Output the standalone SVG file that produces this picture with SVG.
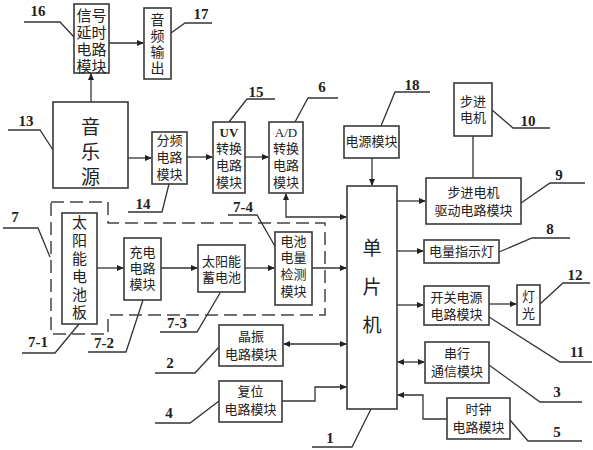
<svg xmlns="http://www.w3.org/2000/svg" width="593" height="450" viewBox="0 0 593 450">
<style>
.b{fill:#fff;stroke:#3a3a3a;stroke-width:1.6}
.l{fill:none;stroke:#333;stroke-width:1.3}
.a{fill:none;stroke:#333;stroke-width:1.3;marker-end:url(#ar)}
.d{fill:none;stroke:#333;stroke-width:1.3;marker-end:url(#ar);marker-start:url(#ar)}
.dash{fill:none;stroke:#444;stroke-width:1.5;stroke-dasharray:13,6}
.t{font-family:"Liberation Sans","Noto Sans CJK SC",sans-serif;font-size:13px;fill:#222;text-anchor:middle;dominant-baseline:central}
.tb{font-size:15px}
.tm{font-size:14px}
.tl{font-size:19px}
.n{font-family:"Liberation Serif",serif;font-weight:bold;font-size:15px;fill:#222;text-anchor:middle;dominant-baseline:central}
</style>
<defs>
<marker id="ar" markerUnits="userSpaceOnUse" markerWidth="7" markerHeight="6" refX="6" refY="3" orient="auto-start-reverse"><path d="M0,0 L7,3 L0,6 z" fill="#222"/></marker>
</defs>
<rect width="593" height="450" fill="#fff"/>
<g id="connectors">
<path class="a" d="M109,43 H143"/>
<path class="a" d="M91,102 V74"/>
<path class="a" d="M128,158 H151"/>
<path class="a" d="M187,157 H212"/>
<path class="a" d="M245,157 H268"/>
<path class="d" d="M286,194 V217 H346"/>
<path class="a" d="M372,158 V185"/>
<path class="l" d="M473,136 V178"/>
<path class="a" d="M397,201 H425"/>
<path class="a" d="M397,251 H423"/>
<path class="a" d="M397,305 H423"/>
<path class="a" d="M489,304 H516"/>
<path class="d" d="M398,362 H424"/>
<path class="a" d="M447,419 H423 V395 H398"/>
<path class="d" d="M284,344 H346"/>
<path class="a" d="M282,401 H315 V387 H346"/>
<path class="a" d="M97,268 H123"/>
<path class="a" d="M161,268 H197"/>
<path class="a" d="M245,268 H274"/>
<path class="a" d="M312,268 H346"/>
<path class="dash" d="M51,202 H108 V223 H325 V315 H108 V334 H51 Z"/>
<path class="l" d="M24,22 H60 L74,37"/>
<path class="l" d="M171,33 L185,23 H212"/>
<path class="l" d="M8,130 H40 L53,150"/>
<path class="l" d="M128,212 H162 L169,184"/>
<path class="l" d="M275,99 H247 L229,122"/>
<path class="l" d="M338,98 H308 L295,122"/>
<path class="l" d="M430,92 H395 L381,126"/>
<path class="l" d="M312,447 H352 L371,409"/>
<path class="l" d="M492,110 L513,128 H550"/>
<path class="l" d="M521,203 L550,183 H585"/>
<path class="l" d="M499,252 L532,238 H570"/>
<path class="l" d="M540,304 L563,283 H590"/>
<path class="l" d="M489,317 L560,362 H592"/>
<path class="l" d="M489,365 L540,402 H582"/>
<path class="l" d="M510,420 L528,441 H582"/>
<path class="l" d="M219,347 L195,373 H155"/>
<path class="l" d="M219,401 L190,423 H155"/>
<path class="l" d="M3,228 H38 L50,257"/>
<path class="l" d="M228,215 H257 L276,248"/>
<path class="l" d="M160,332 H197 L220,293"/>
<path class="l" d="M88,352 H126 L143,300"/>
<path class="l" d="M22,353 H55 L79,324"/>
</g>
<g id="n16"><rect class="b" x="74" y="4" width="35" height="69"/><text class="t tb"><tspan x="91.5" y="15">信号</tspan><tspan x="91.5" y="32">延时</tspan><tspan x="91.5" y="49">电路</tspan><tspan x="91.5" y="66">模块</tspan></text><text class="n" x="38" y="11">16</text></g>
<g id="n17"><rect class="b" x="144" y="8" width="27" height="71"/><text class="t tm"><tspan x="157.5" y="20">音</tspan><tspan x="157.5" y="36">频</tspan><tspan x="157.5" y="52">输</tspan><tspan x="157.5" y="68">出</tspan></text><text class="n" x="201" y="14">17</text></g>
<g id="n13"><rect class="b" x="53" y="102" width="75" height="86"/><text class="t tl"><tspan x="90.5" y="127">音</tspan><tspan x="90.5" y="152">乐</tspan><tspan x="90.5" y="177">源</tspan></text><text class="n" x="26" y="121">13</text></g>
<g id="n14"><rect class="b" x="152" y="132" width="35" height="52"/><text class="t"><tspan x="169.5" y="140">分频</tspan><tspan x="169.5" y="157">电路</tspan><tspan x="169.5" y="174">模块</tspan></text><text class="n" x="143" y="204">14</text></g>
<g id="n15"><rect class="b" x="213" y="122" width="32" height="71"/><text class="t"><tspan x="229" y="132" style="font-family:'Liberation Serif',serif;font-weight:bold">UV</tspan><tspan x="229" y="148">转换</tspan><tspan x="229" y="165">电路</tspan><tspan x="229" y="182">模块</tspan></text><text class="n" x="256" y="92">15</text></g>
<g id="n6"><rect class="b" x="269" y="122" width="34" height="71"/><text class="t"><tspan x="286" y="132" style="font-family:'Liberation Serif',serif">A/D</tspan><tspan x="286" y="148">转换</tspan><tspan x="286" y="165">电路</tspan><tspan x="286" y="182">模块</tspan></text><text class="n" x="322" y="87">6</text></g>
<g id="n18"><rect class="b" x="344" y="126" width="55" height="32"/><text class="t" x="371.5" y="141">电源模块</text><text class="n" x="412" y="85">18</text></g>
<g id="n1"><rect class="b" x="347" y="186" width="50" height="223"/><text class="t tl"><tspan x="372" y="248">单</tspan><tspan x="372" y="287">片</tspan><tspan x="372" y="325">机</tspan></text><text class="n" x="330" y="438">1</text></g>
<g id="n10"><rect class="b" x="454" y="83" width="38" height="53"/><text class="t"><tspan x="473" y="101">步进</tspan><tspan x="473" y="117">电机</tspan></text><text class="n" x="528" y="121">10</text></g>
<g id="n9"><rect class="b" x="426" y="178" width="95" height="46"/><text class="t"><tspan x="473.5" y="192">步进电机</tspan><tspan x="473.5" y="210">驱动电路模块</tspan></text><text class="n" x="559" y="175">9</text></g>
<g id="n8"><rect class="b" x="424" y="240" width="75" height="23"/><text class="t" x="461.5" y="251.5">电量指示灯</text><text class="n" x="550" y="229">8</text></g>
<g id="n11"><rect class="b" x="424" y="286" width="65" height="39"/><text class="t"><tspan x="456.5" y="297">开关电源</tspan><tspan x="456.5" y="314">电路模块</tspan></text><text class="n" x="577" y="352">11</text></g>
<g id="n12"><rect class="b" x="517" y="285" width="23" height="40"/><text class="t"><tspan x="528.5" y="296">灯</tspan><tspan x="528.5" y="313">光</tspan></text><text class="n" x="575" y="275">12</text></g>
<g id="n3"><rect class="b" x="425" y="342" width="64" height="41"/><text class="t"><tspan x="457" y="353">串行</tspan><tspan x="457" y="371">通信模块</tspan></text><text class="n" x="557" y="392">3</text></g>
<g id="n5"><rect class="b" x="447" y="398" width="63" height="41"/><text class="t"><tspan x="478.5" y="409">时钟</tspan><tspan x="478.5" y="427">电路模块</tspan></text><text class="n" x="557" y="432">5</text></g>
<g id="n2"><rect class="b" x="219" y="325" width="64" height="41"/><text class="t"><tspan x="251" y="336">晶振</tspan><tspan x="251" y="354">电路模块</tspan></text><text class="n" x="170" y="363">2</text></g>
<g id="n4"><rect class="b" x="219" y="381" width="63" height="41"/><text class="t"><tspan x="250.5" y="391">复位</tspan><tspan x="250.5" y="409">电路模块</tspan></text><text class="n" x="169" y="413">4</text></g>
<g id="n7"><text class="n" x="15" y="217">7</text></g>
<g id="n7-1"><rect class="b" x="62" y="213" width="35" height="111"/><text class="t tb"><tspan x="79.5" y="222">太</tspan><tspan x="79.5" y="240">阳</tspan><tspan x="79.5" y="258">能</tspan><tspan x="79.5" y="276">电</tspan><tspan x="79.5" y="294">池</tspan><tspan x="79.5" y="312">板</tspan></text><text class="n" x="38" y="342">7-1</text></g>
<g id="n7-2"><rect class="b" x="124" y="238" width="37" height="62"/><text class="t"><tspan x="142.5" y="252">充电</tspan><tspan x="142.5" y="268">电路</tspan><tspan x="142.5" y="284">模块</tspan></text><text class="n" x="104" y="343">7-2</text></g>
<g id="n7-3"><rect class="b" x="198" y="245" width="47" height="47"/><text class="t"><tspan x="221.5" y="261">太阳能</tspan><tspan x="221.5" y="277">蓄电池</tspan></text><text class="n" x="177" y="323">7-3</text></g>
<g id="n7-4"><rect class="b" x="275" y="232" width="37" height="73"/><text class="t"><tspan x="293.5" y="241">电池</tspan><tspan x="293.5" y="257">电量</tspan><tspan x="293.5" y="274">检测</tspan><tspan x="293.5" y="291">模块</tspan></text><text class="n" x="243" y="207">7-4</text></g>
</svg>
